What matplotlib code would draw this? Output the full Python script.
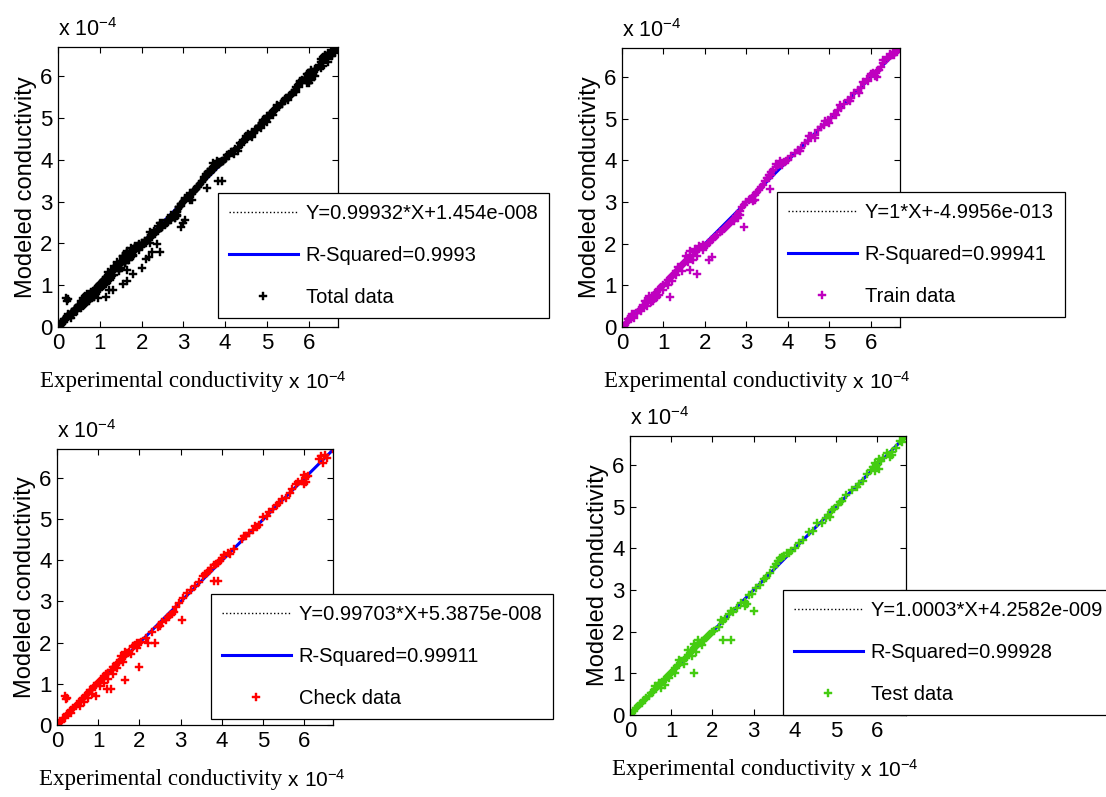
import matplotlib
matplotlib.use("Agg")
import matplotlib.pyplot as plt
import numpy as np

plt.rcParams['font.family'] = ['Liberation Sans', 'DejaVu Sans']
plt.rcParams['mathtext.fontset'] = 'custom'
plt.rcParams['mathtext.rm'] = 'Liberation Sans'
plt.rcParams['mathtext.it'] = 'Liberation Sans:italic'

# values in units of 1e-4
train_x = [0.00, 0.05, 0.10, 0.15, 0.20, 0.25, 0.30, 0.35, 0.40, 0.45, 0.50, 0.55, 0.60, 0.65, 0.70, 0.75, 0.80,
           0.85, 0.90, 0.95, 1.00, 1.05, 1.10, 1.15, 1.20, 1.25, 1.30, 1.35, 1.40, 1.45, 1.50, 1.55, 1.60, 1.65,
           1.70, 1.75, 1.80, 1.85, 1.90, 1.95,
           0.30, 0.45, 0.55, 0.60, 0.65, 0.70, 0.75, 0.80, 0.85, 0.90, 1.00, 1.10, 1.20, 1.30, 1.35, 1.45, 1.55,
           1.60, 1.65, 1.75, 1.80, 1.85, 1.95, 1.70, 0.15, 0.25,
           1.15, 1.65, 1.80, 2.10, 2.17,
           2.00, 2.05, 2.10, 2.15, 2.20, 2.25, 2.30, 2.35, 2.40, 2.45, 2.50, 2.55, 2.60, 2.65, 2.70, 2.75, 2.80,
           2.85, 2.90, 2.95, 3.00, 3.05, 3.10, 3.15, 3.20, 3.25, 3.30, 3.35, 3.40, 3.45,
           2.70, 2.80, 2.85, 3.15, 3.20, 2.95,
           3.50, 3.55, 3.60, 3.65, 3.70, 3.75, 3.80, 3.85, 3.90, 3.95, 4.00,
           3.55, 3.60, 3.70, 3.80, 3.85, 3.57,
           4.08, 4.16, 4.24, 4.32, 4.40, 4.48, 4.56, 4.64, 4.72, 4.80, 4.88, 4.96, 5.04, 5.12, 5.20, 5.28, 5.36,
           5.44, 5.52, 5.60, 5.68, 5.76, 5.84, 5.92, 6.00,
           4.30, 4.50, 4.65, 4.90, 5.00, 5.15, 5.25, 5.50, 5.70, 5.80, 5.90,
           6.05, 6.10, 6.15, 6.20, 6.25, 6.30, 6.35, 6.40, 6.45, 6.50, 6.55, 6.60, 6.65, 6.70,
           6.00, 6.15, 6.30, 6.45, 6.55, 6.60]
train_y = [0.00, 0.03, 0.10, 0.13, 0.22, 0.24, 0.31, 0.33, 0.42, 0.44, 0.52, 0.53, 0.62, 0.66, 0.70, 0.74, 0.82,
           0.84, 0.92, 0.95, 1.02, 1.06, 1.12, 1.18, 1.22, 1.28, 1.34, 1.38, 1.43, 1.48, 1.53, 1.58, 1.66, 1.70,
           1.74, 1.80, 1.84, 1.88, 1.92, 1.96,
           0.22, 0.38, 0.62, 0.50, 0.75, 0.60, 0.62, 0.70, 0.72, 0.78, 0.90, 1.00, 1.10, 1.25, 1.45, 1.35, 1.70,
           1.55, 1.82, 1.88, 1.70, 1.95, 1.85, 1.60, 0.20, 0.32,
           0.72, 1.37, 1.28, 1.62, 1.68,
           1.95, 1.98, 2.02, 2.08, 2.12, 2.16, 2.22, 2.27, 2.30, 2.36, 2.40, 2.45, 2.50, 2.55, 2.60, 2.66, 2.72,
           2.78, 2.88, 2.94, 3.00, 3.05, 3.08, 3.15, 3.18, 3.25, 3.30, 3.36, 3.42, 3.50,
           2.55, 2.62, 2.68, 3.03, 3.05, 2.40,
           3.58, 3.66, 3.72, 3.78, 3.84, 3.88, 3.92, 3.95, 3.96, 3.98, 4.02,
           3.58, 3.65, 3.92, 3.98, 3.90, 3.32,
           4.10, 4.18, 4.26, 4.30, 4.42, 4.47, 4.58, 4.62, 4.72, 4.81, 4.86, 4.97, 5.02, 5.12, 5.22, 5.27, 5.36,
           5.45, 5.50, 5.61, 5.68, 5.75, 5.86, 5.90, 6.02,
           4.22, 4.58, 4.55, 4.95, 4.90, 5.08, 5.32, 5.42, 5.62, 5.88, 5.95,
           6.10, 6.02, 6.14, 6.18, 6.24, 6.33, 6.40, 6.46, 6.50, 6.52, 6.58, 6.60, 6.66, 6.70,
           6.08, 6.00, 6.42, 6.55, 6.52, 6.65]

check_x = [0.00, 0.05, 0.10, 0.15, 0.20, 0.25, 0.30, 0.35, 0.40, 0.45, 0.50, 0.55, 0.60, 0.65, 0.70, 0.75, 0.80,
           0.85, 0.90, 0.95, 1.00, 1.05, 1.10, 1.15, 1.20, 1.25, 1.30, 1.35, 1.40, 1.45, 1.50, 1.55, 1.60, 1.65,
           1.70, 1.75, 1.80, 1.85, 1.90, 1.95, 2.00,
           0.35, 0.55, 0.65, 0.75, 0.85, 1.05, 1.15, 1.25, 1.35, 1.45, 1.55, 1.60, 1.65, 1.85, 1.95,
           0.20, 0.25, 0.22, 0.95, 1.22, 1.32, 1.65, 2.00, 2.20, 2.38,
           2.05, 2.15, 2.30, 2.45, 2.55, 2.65, 2.70, 2.75, 2.80, 2.85, 2.90, 2.95, 3.05, 3.15, 3.25, 3.35, 3.45,
           3.55, 3.60, 3.65, 3.70, 3.75, 3.80, 3.85, 3.90, 3.95, 4.00,
           3.03, 3.82, 3.92, 2.50,
           4.05, 4.15, 4.20, 4.30, 4.50, 4.55, 4.60, 4.65, 4.75, 4.80, 4.85, 4.90, 5.00, 5.10, 5.15, 5.25, 5.35,
           5.40, 5.45, 5.55, 5.65, 5.70, 5.80, 5.85, 5.95, 6.00, 6.05, 6.10, 6.35, 6.40, 6.50, 6.55, 6.70,
           6.00, 6.05, 6.45]
check_y = [0.00, 0.04, 0.08, 0.16, 0.18, 0.26, 0.30, 0.36, 0.42, 0.46, 0.50, 0.58, 0.64, 0.66, 0.72, 0.78, 0.84,
           0.86, 0.94, 0.98, 1.03, 1.08, 1.12, 1.20, 1.24, 1.27, 1.34, 1.40, 1.42, 1.50, 1.52, 1.58, 1.64, 1.68,
           1.75, 1.78, 1.72, 1.90, 1.95, 1.98, 2.00,
           0.28, 0.45, 0.55, 0.65, 0.75, 0.95, 1.02, 1.12, 1.25, 1.38, 1.68, 1.52, 1.78, 1.92, 1.88,
           0.70, 0.66, 0.62, 0.70, 0.88, 0.88, 1.10, 1.42, 2.00, 1.98,
           2.02, 2.12, 2.25, 2.38, 2.50, 2.56, 2.62, 2.66, 2.70, 2.74, 2.86, 2.95, 3.08, 3.20, 3.28, 3.38, 3.48,
           3.62, 3.66, 3.70, 3.75, 3.82, 3.88, 3.92, 3.94, 3.98, 4.05,
           2.55, 3.50, 3.50, 2.40,
           4.12, 4.18, 4.15, 4.28, 4.52, 4.60, 4.58, 4.66, 4.74, 4.82, 4.80, 4.86, 5.05, 5.08, 5.16, 5.24, 5.34,
           5.40, 5.48, 5.52, 5.62, 5.74, 5.86, 5.90, 5.92, 6.08, 6.02, 6.05, 6.45, 6.52, 6.55, 6.48, 6.70,
           5.85, 5.90, 6.35]

test_x = [0.00, 0.05, 0.10, 0.15, 0.20, 0.25, 0.30, 0.35, 0.40, 0.45, 0.50, 0.55, 0.60, 0.65, 0.70, 0.75, 0.80,
          0.85, 0.90, 0.95, 1.00, 1.05, 1.10, 1.15, 1.20, 1.25, 1.30, 1.35, 1.40, 1.45, 1.50, 1.55, 1.60, 1.65,
          1.70, 1.75, 1.80, 1.85, 1.90, 1.95, 2.00,
          0.60, 0.70, 0.75, 0.85, 0.95, 1.10, 1.20, 1.30, 1.40, 1.50, 1.55, 1.60, 1.65, 1.75,
          1.55, 2.25, 2.45,
          2.05, 2.15, 2.20, 2.25, 2.30, 2.40, 2.45, 2.50, 2.60, 2.70, 2.80, 2.85, 2.90, 2.95, 3.05, 3.15, 3.25,
          3.30, 3.40, 3.50, 3.55, 3.60, 3.65, 3.70, 3.75, 3.80, 3.85, 3.90, 4.00,
          3.00, 2.80,
          4.10, 4.20, 4.35, 4.45, 4.55, 4.65, 4.75, 4.80, 4.85, 4.90, 4.95, 5.05, 5.10, 5.15, 5.25, 5.40, 5.50,
          5.55, 5.65, 5.75, 5.85, 5.90, 5.95, 6.00, 6.05, 6.10, 6.15, 6.25, 6.35, 6.45, 6.55, 6.60, 6.65, 6.70,
          5.95, 6.05, 6.35, 6.30]
test_y = [0.00, 0.06, 0.10, 0.16, 0.22, 0.26, 0.30, 0.36, 0.40, 0.46, 0.52, 0.56, 0.62, 0.68, 0.72, 0.76, 0.80,
          0.86, 0.92, 0.96, 1.00, 1.06, 1.12, 1.18, 1.20, 1.30, 1.32, 1.38, 1.45, 1.50, 1.55, 1.62, 1.66, 1.70,
          1.72, 1.78, 1.80, 1.84, 1.90, 1.94, 2.00,
          0.70, 0.78, 0.66, 0.72, 0.88, 1.02, 1.32, 1.22, 1.55, 1.42, 1.70, 1.52, 1.80, 1.68,
          1.02, 1.80, 1.80,
          2.02, 2.12, 2.28, 2.26, 2.30, 2.42, 2.50, 2.48, 2.56, 2.68, 2.72, 2.66, 2.88, 2.90, 3.06, 3.12, 3.26,
          3.30, 3.42, 3.55, 3.62, 3.70, 3.76, 3.80, 3.82, 3.88, 3.90, 3.94, 4.02,
          2.50, 2.62,
          4.14, 4.20, 4.40, 4.42, 4.62, 4.60, 4.72, 4.80, 4.76, 4.92, 4.95, 5.05, 5.12, 5.15, 5.28, 5.40, 5.48,
          5.55, 5.62, 5.78, 5.88, 5.96, 6.05, 6.00, 6.15, 6.10, 6.18, 6.28, 6.32, 6.42, 6.58, 6.55, 6.66, 6.70,
          5.85, 5.90, 6.25, 6.20]

total_x = train_x + check_x + test_x
total_y = train_y + check_y + test_y

slopes = [0.99932, 1, 0.99703, 1.0003]
intercepts = [1.454e-008, -4.9956e-013, 5.3875e-008, 4.2582e-009]
fit_labels = ['Y=0.99932*X+1.454e-008', 'Y=1*X+-4.9956e-013',
              'Y=0.99703*X+5.3875e-008', 'Y=1.0003*X+4.2582e-009']
r2_labels = ['R-Squared=0.9993', 'R-Squared=0.99941', 'R-Squared=0.99911', 'R-Squared=0.99928']
data_labels = ['Total data', 'Train data', 'Check data', 'Test data']
colors = ['black', '#bf00bf', '#ff0000', '#44cc11']
xs = [total_x, train_x, check_x, test_x]
ys = [total_y, train_y, check_y, test_y]

W, H = 1106, 797
# axes boxes in pixels: left, top, right, bottom
ax_px = [(58, 47, 338, 327), (622, 48, 900, 327), (57, 449, 333, 725), (630, 436, 906, 715)]
leg_px = [(218, 193), (777, 192), (211, 594), (783, 590)]

fig = plt.figure(figsize=(W / 100, H / 100), dpi=100)
lim = 6.7

for i in range(4):
    l, t, r, b = ax_px[i]
    ax = fig.add_axes([l / W, 1 - b / H, (r - l) / W, (b - t) / H])
    xx = np.array([0, lim])
    # intercept is in real units, data in 1e-4 units
    fit = slopes[i] * xx + intercepts[i] / 1e-4
    h1, = ax.plot(xx, fit, ':', color='black', lw=1)
    h2, = ax.plot(xx, fit, '-', color='blue', lw=2.2)
    h3, = ax.plot(xs[i], ys[i], 'P', color=colors[i], ms=5.5, mew=0.3, linestyle='none')
    ax.set_xlim(0, lim)
    ax.set_ylim(0, lim)
    ax.set_xticks(range(7))
    ax.set_yticks(range(7))
    ax.tick_params(direction='in', top=True, right=True, length=4, width=0.8, labelsize=16, pad=4)
    for s in ax.spines.values():
        s.set_linewidth(0.9)
    ax.set_ylabel('Modeled conductivity', fontsize=17)
    ax.yaxis.set_label_coords(-0.075, 0.5)
    ax.annotate('x 10$^{-4}$', xy=(0, 1), xycoords='axes fraction', xytext=(0, 6),
                textcoords='offset pixels', ha='left', va='bottom', fontsize=15.5)
    t1 = ax.annotate('Experimental conductivity', xy=(0, 0), xycoords='axes fraction', xytext=(-18, -55),
                     textcoords='offset pixels', ha='left', va='center', fontsize=16.5,
                     family='Liberation Serif')
    ax.annotate(' x 10$^{-4}$', xy=(1, 0.5), xycoords=t1, ha='left', va='center', fontsize=15)
    lx, ly = leg_px[i]
    leg = ax.legend([h1, h2, h3], [fit_labels[i], r2_labels[i], data_labels[i]],
                    loc='upper left', bbox_to_anchor=(lx / W, 1 - ly / H), bbox_transform=fig.transFigure,
                    borderaxespad=0, fontsize=14.5, fancybox=False, framealpha=1, edgecolor='black',
                    handlelength=3.4, handletextpad=0.4, labelspacing=1.15, borderpad=0.55, numpoints=1)
    leg.get_frame().set_linewidth(0.9)

fig.savefig('out.png', dpi=100)
